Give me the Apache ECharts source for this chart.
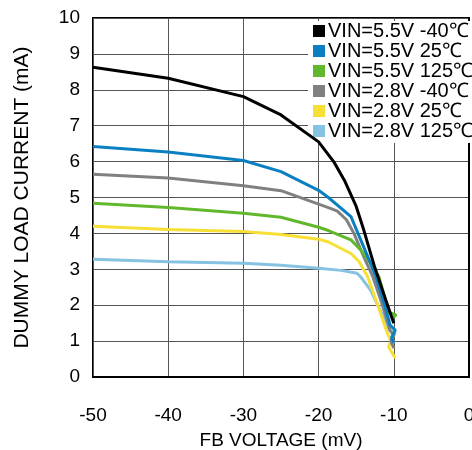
<!DOCTYPE html>
<html><head><meta charset="utf-8">
<script src="https://cdn.jsdelivr.net/npm/echarts@6/dist/echarts.min.js"></script>
<style>html,body{margin:0;padding:0;background:#fff}#c{width:472px;height:450px}</style>
</head><body><div id="c"></div>
<script>
const seriesNames = ['VIN=5.5V -40℃','VIN=5.5V 25℃','VIN=5.5V 125℃','VIN=2.8V -40℃','VIN=2.8V 25℃','VIN=2.8V 125℃'];
const colors = ['#000000','#0a80c2','#62b82c','#808080','#f7df36','#86c3e3'];
const x55m40 = [-50,-40,-30,-25,-20,-18,-16.5,-15,-14,-12.6,-11,-10];
const y55m40 = [8.63,8.32,7.81,7.3,6.55,6.0,5.45,4.75,4.1,3.1,2.1,1.5];
const x55p25 = [-50,-40,-30,-25,-20,-18.7,-15.7,-14.4,-13.1,-12.4,-11.2,-10.5,-9.8,-10.3,-10];
const y55p25 = [6.42,6.27,6.03,5.72,5.2,5.0,4.47,3.82,3.17,2.8,2.0,1.45,1.3,1.1,0.95];
const x55p125 = [-50,-40,-30,-25,-20,-18.7,-15.7,-14.4,-13.1,-12,-10.6,-9.7,-10.3];
const y55p125 = [4.84,4.72,4.56,4.45,4.17,4.08,3.82,3.54,3.17,2.8,1.8,1.73,1.62];
const x28m40 = [-50,-40,-30,-25,-18.7,-17.5,-16.3,-15.3,-14,-12.8,-11.5,-10.5,-10,-10.4,-10];
const y28m40 = [5.65,5.54,5.33,5.19,4.72,4.62,4.38,4.0,3.35,2.8,2.0,1.3,1.15,1.0,0.8];
const x28p25 = [-50,-40,-30,-25,-20,-18.7,-15.7,-14.6,-13.5,-12.3,-11,-10.4,-10.7,-9.8];
const y28p25 = [4.2,4.11,4.05,3.97,3.84,3.76,3.44,3.21,2.8,2.1,1.3,1.0,0.84,0.52];
const x28p125 = [-50,-40,-30,-25,-20,-17,-14.9,-14.4,-13.1,-12,-10.6,-9.8,-10.4,-9.9];
const y28p125 = [3.28,3.21,3.17,3.11,3.03,2.97,2.89,2.79,2.42,1.95,1.31,1.21,1.08,0.95];
const xTicks = [-50,-40,-30,-20,-10,0];
const yTicks = [0,1,2,3,4,5,6,7,8,9,10];
const allX = [x55m40,x55p25,x55p125,x28m40,x28p25,x28p125];
const allY = [y55m40,y55p25,y55p125,y28m40,y28p25,y28p125];
const FONT = 'Liberation Sans, Arial, sans-serif';
const chart = echarts.init(document.getElementById('c'), null, {renderer:'canvas'});
chart.setOption({
  animation:false,
  backgroundColor:'#fff',
  grid:{left:93,right:3,top:18,bottom:73,show:true,borderColor:'#000',borderWidth:2,containLabel:false,outerBoundsMode:'none'},
  legend:{
    orient:'vertical', left:308, top:21, icon:'rect', itemWidth:12, itemHeight:12, itemGap:0,
    backgroundColor:'#fff', padding:[0,0,2,5],
    textStyle:{fontFamily:FONT,fontSize:20,color:'#000',lineHeight:19,padding:[0,0,0,-2]},
    data: seriesNames
  },
  xAxis:{type:'value',min:xTicks[0],max:xTicks[xTicks.length-1],interval:10,
    name:'FB VOLTAGE (mV)',nameLocation:'middle',nameGap:54,
    nameTextStyle:{fontFamily:FONT,fontSize:19,color:'#000'},
    axisLine:{show:true,lineStyle:{color:'#000',width:2}},axisTick:{show:false},
    axisLabel:{fontFamily:FONT,fontSize:19,color:'#000',margin:29,showMaxLabel:true},
    splitLine:{show:true,lineStyle:{color:'#555',width:1}}},
  yAxis:{type:'value',min:yTicks[0],max:yTicks[yTicks.length-1],interval:1,
    name:'DUMMY LOAD CURRENT (mA)',nameLocation:'middle',nameGap:60,
    nameTextStyle:{fontFamily:FONT,fontSize:21,color:'#000'},
    axisLine:{show:true,lineStyle:{color:'#000',width:2}},axisTick:{show:false},
    axisLabel:{fontFamily:FONT,fontSize:19,color:'#000',margin:13},
    splitLine:{show:true,lineStyle:{color:'#555',width:1}}},
  series: seriesNames.map((n,i)=>({
    name:n, type:'line', color:colors[i], showSymbol:false, symbol:'none',
    lineStyle:{width:3,color:colors[i]}, z: 10-i,
    data: allX[i].map((x,j)=>[x, allY[i][j]])
  }))
});
</script></body></html>
